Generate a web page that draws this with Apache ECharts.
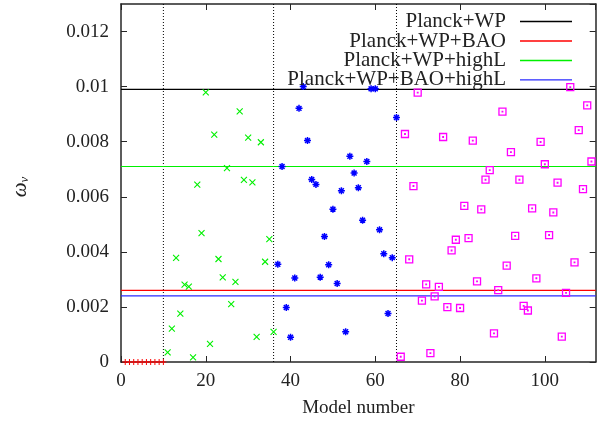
<!DOCTYPE html>
<html>
<head>
<meta charset="utf-8">
<script src="https://cdn.jsdelivr.net/npm/echarts@6/dist/echarts.min.js"></script>
<style>
  html, body { margin: 0; padding: 0; background: #fff; }
  #chart { width: 608px; height: 421px; }
</style>
</head>
<body>
<div id="chart"></div>
<script>
// Neutrino density omega_nu per model, grouped by data combination
const redModels = [1, 2, 3, 4, 5, 6, 7, 8, 9, 10];
const redOmega = [0, 0, 0, 0, 0, 0, 0, 0, 0, 0];

const greenModels = [11, 12, 13, 14, 15, 16, 17, 18, 19, 20, 21, 22, 23, 24, 25, 26, 27, 28, 29, 30, 31, 32, 33, 34, 35, 36];
const greenOmega = [0.00035, 0.00121, 0.00378, 0.00176, 0.00281, 0.00274, 0.00017, 0.00644, 0.00468, 0.00979,
  0.00066, 0.00826, 0.00374, 0.00307, 0.00704, 0.00210, 0.00291, 0.00910, 0.00661, 0.00815,
  0.00652, 0.00091, 0.00798, 0.00364, 0.00446, 0.00109];

const blueModels = [37, 38, 39, 40, 41, 42, 43, 44, 45, 46, 47, 48, 49, 50, 51, 52, 53, 54, 55, 56, 57, 58, 59, 60, 61, 62, 63, 64, 65];
const blueOmega = [0.00355, 0.00710, 0.00198, 0.00090, 0.00305, 0.00921, 0.01000, 0.00804, 0.00663, 0.00645,
  0.00308, 0.00456, 0.00353, 0.00555, 0.00285, 0.00622, 0.00110, 0.00747, 0.00686, 0.00633,
  0.00515, 0.00728, 0.00992, 0.00992, 0.00480, 0.00393, 0.00176, 0.00379, 0.00888];

const magentaModels = [66, 67, 68, 69, 70, 71, 72, 73, 74, 75, 76, 77, 78, 79, 80, 81, 82, 83, 84, 85, 86, 87, 88,
  89, 90, 91, 92, 93, 94, 95, 96, 97, 98, 99, 100, 101, 102, 103, 104, 105, 106, 107, 108, 109, 110, 111];
const magentaOmega = [0.00019, 0.00828, 0.00373, 0.00639, 0.00978, 0.00223, 0.00282, 0.00032, 0.00238, 0.00273,
  0.00817, 0.00199, 0.00405, 0.00444, 0.00196, 0.00567, 0.00450, 0.00804, 0.00293, 0.00554,
  0.00662, 0.00697, 0.00104, 0.00261, 0.00909, 0.00350, 0.00762, 0.00458, 0.00662, 0.00204,
  0.00187, 0.00558, 0.00304, 0.00799, 0.00718, 0.00461, 0.00543, 0.00651, 0.00092, 0.00251,
  0.00998, 0.00362, 0.00842, 0.00628, 0.00932, 0.00728];

// Upper bounds from each data combination
const boundLabels = ['Planck+WP', 'Planck+WP+BAO', 'Planck+WP+highL', 'Planck+WP+BAO+highL'];
const boundValues = [0.0099, 0.0026, 0.0071, 0.0024];
const boundColors = ['#000000', '#ff0000', '#00f000', '#2a2aff'];

// Model-group separators
const groupDividers = [10, 36, 65];

const X_MIN = 0, X_MAX = 112, Y_MIN = 0, Y_MAX = 0.013;

const FONT = 'Liberation Serif';
const AXIS_COLOR = '#262626';
const TEXT_COLOR = '#222222';

const SYM_PLUS = 'path://M5,0V10M0,5H10';
const SYM_CROSS = 'path://M0,0L10,10M0,10L10,0';
const SYM_STAR = 'path://M5,0V10M0,5H10M1.5,1.5L8.5,8.5M1.5,8.5L8.5,1.5';
const SYM_BOX = 'path://M0,0H10V10H0ZM4.6,4.6H5.4V5.4H4.6Z';

function zipPoints(xs, ys) {
  return xs.map((x, i) => [x, ys[i]]);
}

function scatter(xs, ys, symbol, size, color, width) {
  return {
    type: 'scatter',
    data: zipPoints(xs, ys),
    symbol: symbol,
    symbolSize: size,
    itemStyle: { color: 'none', borderColor: color, borderWidth: width, opacity: 1 },
    emphasis: { disabled: true },
    silent: true,
    z: 3
  };
}

const series = [];

groupDividers.forEach((x) => {
  series.push({
    type: 'line',
    data: [[x, Y_MIN], [x, Y_MAX]],
    symbol: 'none',
    lineStyle: { color: '#000', width: 1, type: [1, 2] },
    silent: true,
    z: 2
  });
});

boundLabels.forEach((name, i) => {
  series.push({
    name: name,
    type: 'line',
    data: [[X_MIN, boundValues[i]], [X_MAX, boundValues[i]]],
    symbol: 'none',
    lineStyle: { color: boundColors[i], width: 1.2 },
    itemStyle: { color: boundColors[i] },
    silent: true,
    z: 2
  });
});

series.push(scatter(redModels, redOmega, SYM_PLUS, 6, '#ff0000', 1));
series.push(scatter(greenModels, greenOmega, SYM_CROSS, 6, '#00f000', 1.1));
series.push(scatter(blueModels, blueOmega, SYM_STAR, 7, '#0000ff', 1.5));
series.push(scatter(magentaModels, magentaOmega, SYM_BOX, 7, '#ff00ff', 1.3));

const legendTops = [11, 30.5, 50, 69.3];
const legends = boundLabels.map((name, i) => ({
  data: [name],
  orient: 'vertical',
  right: 36,
  top: legendTops[i],
  padding: 0,
  align: 'right',
  icon: 'rect',
  itemWidth: 52,
  itemHeight: 1.3,
  selectedMode: false,
  textStyle: {
    fontFamily: FONT,
    fontSize: 21,
    color: TEXT_COLOR,
    lineHeight: 14,
    padding: [0, 9, 0, 0]
  }
}));

const axisLine = { show: true, onZero: false, lineStyle: { color: AXIS_COLOR, width: 1.5 } };
const axisTick = { show: true, inside: true, length: 6, lineStyle: { color: AXIS_COLOR, width: 1 } };

const option = {
  animation: false,
  backgroundColor: '#ffffff',
  grid: { left: 121, right: 12.3, top: 4, bottom: 59, containLabel: false, outerBoundsMode: 'none' },
  legend: legends,
  xAxis: [
    {
      type: 'value',
      position: 'bottom',
      min: X_MIN, max: X_MAX, interval: 20,
      name: 'Model number',
      nameLocation: 'middle',
      nameGap: 37,
      nameTextStyle: { fontFamily: FONT, fontSize: 19, color: TEXT_COLOR },
      axisLine: axisLine,
      axisTick: axisTick,
      axisLabel: { fontFamily: FONT, fontSize: 19, color: TEXT_COLOR, margin: 10, showMaxLabel: false },
      splitLine: { show: false }
    },
    {
      type: 'value',
      position: 'top',
      min: X_MIN, max: X_MAX, interval: 20,
      axisLine: axisLine,
      axisTick: axisTick,
      axisLabel: { show: false },
      splitLine: { show: false }
    }
  ],
  yAxis: [
    {
      type: 'value',
      position: 'left',
      min: Y_MIN, max: Y_MAX, interval: 0.002,
      name: '{w|ω}{s|ν}',
      nameLocation: 'middle',
      nameGap: 90,
      nameTextStyle: {
        fontFamily: FONT,
        color: TEXT_COLOR,
        padding: [0, 8, 0, 0],
        rich: {
          w: { fontFamily: FONT, fontSize: 21, fontStyle: 'italic', color: TEXT_COLOR, lineHeight: 22 },
          s: { fontFamily: FONT, fontSize: 13, fontStyle: 'italic', color: TEXT_COLOR, lineHeight: 12, verticalAlign: 'bottom' }
        }
      },
      axisLine: axisLine,
      axisTick: axisTick,
      axisLabel: { fontFamily: FONT, fontSize: 19, color: TEXT_COLOR, margin: 12, padding: [3, 0, 0, 0], showMaxLabel: false },
      splitLine: { show: false }
    },
    {
      type: 'value',
      position: 'right',
      min: Y_MIN, max: Y_MAX, interval: 0.002,
      axisLine: axisLine,
      axisTick: axisTick,
      axisLabel: { show: false },
      splitLine: { show: false }
    }
  ],
  series: series
};

const chart = echarts.init(document.getElementById('chart'), null, { renderer: 'canvas' });
chart.setOption(option);
</script>
</body>
</html>
